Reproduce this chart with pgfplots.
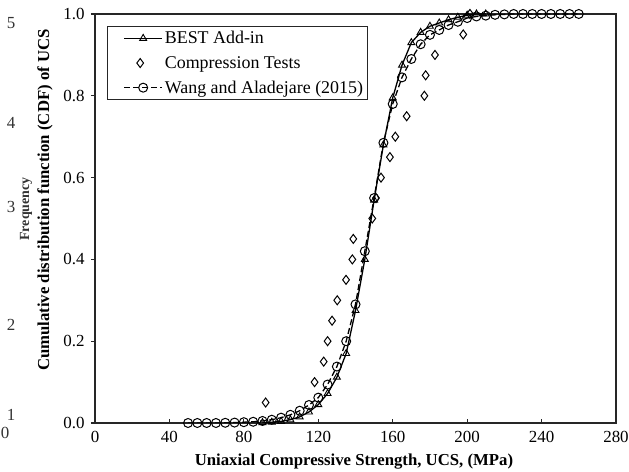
\documentclass[border=0pt]{standalone}
\usepackage{fontspec}
\setmainfont{Liberation Serif}
\usepackage{pgfplots}
\pgfplotsset{compat=1.18}
\pgfplotsset{
  long legend/.style={legend image code/.code={\path (0bp,0bp); \draw[mark repeat=2,mark phase=2,##1] plot coordinates {(14bp,0bp) (33bp,0bp) (52bp,0bp)};}},
  mark legend/.style={legend image code/.code={\path (0bp,0bp) (52bp,0bp); \draw[mark repeat=2,mark phase=2,##1] plot coordinates {(10bp,0bp) (30bp,0bp) (50bp,0bp)};}},
}

\newcommand{\lab}{\fontsize{16.8}{18}\selectfont\bfseries}
\newcommand{\tkf}{\fontsize{17}{18}\selectfont}
\newcommand{\lgf}{\fontsize{18}{19}\selectfont}

\begin{document}
\begin{tikzpicture}[x=1bp,y=1bp]
\useasboundingbox (-95,-49) rectangle (534,423);
\begin{axis}[
  at={(0,0)}, anchor=south west,
  scale only axis, width=521bp, height=409bp,
  xmin=0, xmax=280, ymin=0, ymax=1,
  xtick={0,40,...,280}, ytick={0,0.2,...,1},
  tick pos=left, tick align=inside, major tick length=4bp,
  ytick style={xshift=-4bp},
  tick style={black!85, line width=1.1bp},
  axis line style={black!85, line width=1.4bp},
  /pgf/number format/assume math mode=true,
  tick label style={font=\tkf},
  xticklabel style={yshift=-5bp},
  yticklabel style={xshift=-7bp, /pgf/number format/.cd, fixed, fixed zerofill, precision=1},
  xlabel={Uniaxial Compressive Strength, UCS, (MPa)},
  ylabel={Cumulative distribution function (CDF) of UCS},
  xlabel style={font=\lab, at={(axis description cs:0.497,0)}, anchor=center, yshift=-39bp},
  ylabel style={font=\lab, at={(axis description cs:-0.096,0.545)}, anchor=center, rotate=0},
  legend style={at={(rel axis cs:0.023,0.971)}, anchor=north west, draw=black!85, line width=1.1bp,
    font=\lgf, inner xsep=2bp, inner ysep=3bp, row sep=7bp, nodes={inner sep=2bp}, cells={anchor=west}},
]
\addplot[long legend, black, line width=1.3bp, mark=triangle, mark size=4bp, mark options={solid, line width=0.9bp}] coordinates {
(90,0.001) (95,0.002) (100,0.004) (105,0.008) (110,0.015) (115,0.027) (120,0.045) (125,0.072)
(130,0.112) (135,0.170) (140,0.275) (145,0.400) (150,0.545) (155,0.680) (160,0.795) (165,0.875)
(170,0.930) (175,0.955) (180,0.970) (185,0.978) (190,0.986) (195,0.992) (200,0.997) (205,1.000) (210,1.000)};
\addlegendentry{BEST Add-in}
\addplot[only marks, mark legend, black, mark=diamond, mark size=4.5bp, mark options={line width=1bp}] coordinates {
(91.7,0.05) (118,0.10) (122.9,0.15) (125,0.20) (127.4,0.25) (130.2,0.30) (134.9,0.35) (138.3,0.40)
(138.8,0.45) (149,0.50) (151,0.55) (153.7,0.60) (158.5,0.65) (161.4,0.70) (167.5,0.75) (177,0.80)
(177.7,0.85) (182.7,0.90) (197.9,0.95) (201.5,1.00)};
\addlegendentry{Compression Tests}
\addplot[long legend, black, line width=1.3bp, dash pattern=on 6bp off 3bp, mark=o, mark size=4.5bp, mark options={solid, line width=1bp}] coordinates {
(50,0) (55,0) (60,0) (65,0) (70,0.0005) (75,0.001) (80,0.002) (85,0.003) (90,0.005) (95,0.008)
(100,0.013) (105,0.020) (110,0.030) (115,0.044) (120,0.062) (125,0.094) (130,0.138) (135,0.200)
(140,0.290) (145,0.420) (150,0.550) (155,0.685) (160,0.780) (165,0.845) (170,0.890) (175,0.926)
(180,0.949) (185,0.961) (190,0.973) (195,0.981) (200,0.990) (205,0.994) (210,0.996) (215,0.998)
(220,0.999) (225,1) (230,1) (235,1) (240,1) (245,1) (250,1) (255,1) (260,1)};
\addlegendentry{Wang and Aladejare (2015)}
\end{axis}
\begin{scope}[black!80]
\node[font=\tkf] at (-84,400) {5};
\node[font=\tkf] at (-84,300) {4};
\node[font=\tkf] at (-84,216) {3};
\node[font=\tkf] at (-84,98) {2};
\node[font=\tkf] at (-84,8) {1};
\node[font=\tkf] at (-90,-10) {0};
\node[font=\fontsize{14}{15}\selectfont\bfseries, rotate=90] at (-69,214) {Frequency};
\end{scope}
\end{tikzpicture}
\end{document}
